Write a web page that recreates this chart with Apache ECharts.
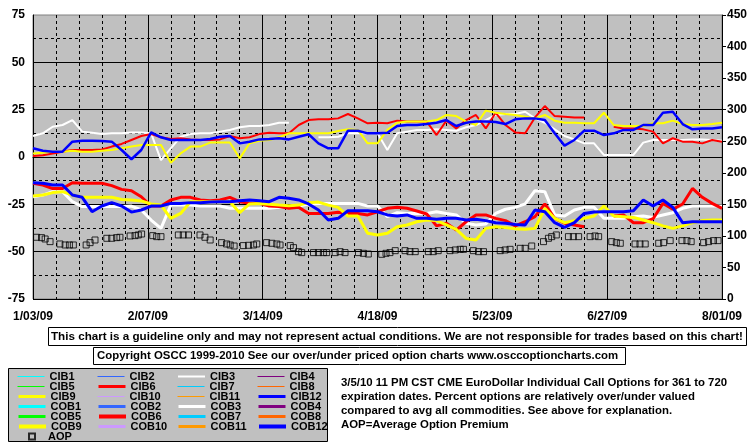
<!DOCTYPE html>
<html><head><meta charset="utf-8">
<script src="https://cdn.jsdelivr.net/npm/echarts@6/dist/echarts.min.js"></script>
<style>html,body{margin:0;padding:0;background:#fff}#c{width:755px;height:446px}</style>
</head><body><div id="c"></div>
<script>
const xTickLabels = ['1/03/09','2/07/09','3/14/09','4/18/09','5/23/09','6/27/09','8/01/09'];
const days = [0,3,6,9,12,15,18,21,24,27,30,33,36,39,42,45,48,51,54,57,60,63,66,69,72,75,78,81,84,87,90,93,96,99,102,105,108,111,114,117,120,123,126,129,132,135,138,141,144,147,150,153,156,159,162,165,168,171,174,177,180,183,186,189,192,195,198,201,204,207,210];
const cib3 = [11.1,12.5,16.0,16.9,19.5,13.4,12.8,12.1,12.5,12.5, 13.0,13.0,12.5,-1.6,4.6,10.7,12.1,12.5,12.5,13.4, 14.3,15.7,16.4,16.4,16.9,18.1,18.1,null,null,10.4, 10.4,10.7,12.5,12.5,12.5,12.5,3.7,12.5,13.4,14.3, 14.3,14.6,14.3,13.9,15.7,16.9,19.5,22.2,22.7,22.7, 23.9,20.4,18.1,14.6,11.1,9.3,7.2,7.2,1.1,1.1, 1.1,1.1,7.6,9.0,9.0,9.0,9.0,9.3,9.3,9.0,8.6];
const cib6 = [0.5,0.9,1.9,2.8,3.7,3.7,3.7,4.0,5.5,6.9, 9.0,11.1,12.1,10.4,9.5,9.9,9.3,9.0,9.0,9.3, 11.1,9.9,10.4,12.1,12.8,12.5,12.5,16.9,19.5,19.9, 19.9,20.4,22.7,20.4,17.8,18.1,17.8,19.2,18.7,18.7, 18.7,11.6,19.2,15.1,19.5,22.2,15.1,23.4,16.9,13.0, 12.5,20.9,26.9,21.6,21.3,20.9,20.9,null,null,16.0, 15.1,15.1,14.6,13.4,7.2,9.9,8.1,8.1,7.2,9.0,8.1];
const cib9 = [1.9,2.3,2.8,2.8,3.3,2.8,2.8,3.3,3.7,4.6, 5.5,6.3,6.3,6.3,-3.0,1.9,5.5,5.5,7.6,7.7, 7.7,-0.7,7.2,8.6,9.0,10.4,12.5,12.5,12.5,12.5, 12.5,13.7,14.6,14.3,7.2,7.2,14.3,18.1,18.7,18.7, 18.7,19.5,22.2,21.6,18.7,16.9,24.5,23.4,22.7,22.2, 21.3,20.4,22.2,19.2,18.1,18.1,17.8,17.8,23.4,16.9, 16.4,16.4,16.4,17.8,17.8,19.2,17.4,16.9,16.9,17.4,18.1];
const cib12 = [4.6,3.3,2.8,2.8,8.1,8.6,8.6,8.4,8.1,3.7, -1.2,3.7,13.0,10.4,9.0,9.0,9.0,9.0,9.5,10.7, 11.1,7.2,8.1,9.3,9.5,9.9,9.3,10.7,12.0,7.2, 4.6,4.6,13.9,13.9,12.5,12.5,12.8,16.4,16.9,16.9, 17.4,18.1,19.5,16.4,18.1,18.7,18.7,18.5,17.4,19.9, 20.4,20.4,19.5,12.5,6.0,9.0,13.9,13.9,11.6,12.5, 14.3,14.3,16.9,16.9,23.4,23.9,17.4,14.6,15.1,15.1,15.7];
const cob3 = [-21.0,-20.1,-18.3,-18.3,-23.6,-26.2,-26.2,-26.2,-26.2,-26.2, -25.9,-28.0,-33.3,-37.7,-25.4,-25.4,-25.4,-25.9,-25.9,-25.9, -27.1,-27.1,-27.1,-27.1,-27.1,-26.6,-26.2,-25.9,-24.8,-24.5, -24.5,-24.5,-24.5,-24.5,-25.9,-25.9,-31.5,-29.4,-29.8,-29.8, -29.8,-28.9,-29.8,-30.6,-35.0,-35.9,-35.4,-29.8,-27.6,-26.6, -24.8,-17.8,-18.3,-30.6,-31.2,-28.0,-26.6,-26.6,-32.4,-32.4, -32.4,-31.5,-31.2,-31.9,-30.6,-29.4,-27.1,-25.9,-25.9,-25.9,-25.9];
const cob6 = [-13.9,-14.8,-16.7,-16.6,-13.6,-13.9,-13.9,-13.9,-15.1,-17.1, -17.8,-21.0,-25.9,-25.9,-22.7,-21.3,-21.3,-22.7,-23.1,-22.7, -21.3,-23.6,-24.5,-24.5,-25.9,-26.2,-27.1,-26.6,-29.8,-29.8, -29.8,-29.2,-29.8,-29.8,-30.6,-28.9,-27.1,-26.6,-27.1,-28.5, -30.1,-36.4,-35.0,-38.6,-34.2,-30.6,-30.6,-32.4,-33.6,-36.4, -34.2,-31.5,-24.8,-32.4,-35.0,-35.9,-36.8,null,null,-31.2, -30.6,-34.7,-34.7,-32.6,-24.5,-27.6,-24.8,-16.6,-21.3,-24.5,-27.1];
const cob9 = [-20.6,-20.1,-18.8,-18.3,-20.1,-21.3,-21.3,-21.3,-21.3,-22.4, -22.7,-23.2,-24.8,-25.4,-32.4,-29.8,-23.6,-23.6,-23.6,-23.6, -23.6,-29.4,-24.8,-24.5,-25.0,-25.4,-25.7,-25.4,-24.1,-23.8, -25.4,-26.6,-31.2,-31.2,-40.3,-41.2,-40.3,-36.8,-35.9,-34.2, -33.3,-33.6,-35.9,-38.2,-43.0,-43.8,-37.7,-36.8,-37.3,-37.9, -38.2,-37.7,-27.1,-32.4,-34.7,-33.6,-32.4,-31.2,-25.9,-31.2, -31.5,-31.9,-33.3,-34.7,-36.4,-37.7,-36.4,-34.7,-33.6,-33.3,-33.3];
const cob12 = [-13.6,-13.9,-14.8,-14.8,-20.1,-21.3,-28.9,-25.9,-24.1,-25.9, -29.1,-28.0,-25.9,-25.9,-24.5,-24.5,-24.1,-24.1,-23.8,-23.6, -23.6,-23.1,-22.7,-23.1,-23.6,-21.3,-21.8,-22.7,-24.8,-28.0, -33.3,-32.4,-28.4,-28.4,-28.4,-28.9,-30.6,-31.2,-30.6,-32.4, -32.4,-32.9,-32.4,-32.4,-33.3,-32.9,-33.6,-34.7,-35.0,-35.6, -35.9,-28.0,-28.9,-34.7,-37.2,-34.7,-29.8,-29.1,-28.9,-28.9, -28.9,-28.4,-22.7,-25.9,-22.7,-26.6,-34.7,-34.2,-34.2,-34.2,-34.2];
const aopDays = [1.1,2.6,3.7,5.2, 8.2,9.8,11.1,12.3, 16.2,17.4,18.9, 22.5,24,25.5,26.5, 29.6,31.1,32.1,33.1, 36.5,37.7,39, 44.3,45.8,47.4, 50.9,52.4,54, 57.5,59,60.1,61.3, 64.1,65.7,67.2,68.2, 71.2,72.8,74.3,75.3, 78.4,79.4,80.9,81.9, 85.5,87,88.5,89.5, 92.1,93.6,95.1, 99.2,100.7,102.2, 106.3,107.6,108.8,110.4, 113.4,114.9,116.5, 120.5,122,123.5, 127.1,128.7,130.2,131.2, 134.2,135.8,137.3, 142.4,143.9,145.4, 148.5,150,152, 155.6,157.1,158.1,159.5, 163.2,164.7,166.3, 169.8,171.3,172.4, 176.4,177.8,179, 183.5,185,186.6, 190.7,192.2,194.2, 197.8,199.3,200.6, 204.4,205.9,207.4,208.8];
const aopVals = [97.8,97.2,95.1,90.9, 87.2,85.6,85.6,85.6, 85.6,89.3,93.5, 96.2,96.2,97.2,97.8, 99.9,100.4,101.5,103, 100.4,98.8,98.8, 101.5,101.5,101.5, 101.5,97.8,93.5, 89.3,87.2,85.6,84, 84.6,85.1,85.6,87.2, 89.3,88.3,87.2,85.6, 84.6,81.4,75,73.5, 73.5,73.5,73.5,73.5, 73.5,75,73.5, 73.5,72.4,71.3, 70.8,72.4,73.5,76.6, 76.6,75,75, 75,75,76.6, 76.6,77.7,78.7,78.7, 76.6,75,75, 76.6,77.7,78.7, 80.3,80.3,84, 90.9,96.2,98.8,101.5, 98.8,98.8,98.8, 98.8,99.9,98.8, 90.9,89.3,88.3, 87.2,87.2,87.2, 88.3,89.3,92.5, 92.5,92.5,90.9, 89.3,90.9,92.5,92.5];
const lineColors = ['#00FFFF','#3366FF','#FFFFFF','#800080','#00FF00','#FF0000','#00CCFF','#FF6600','#FFFF00','#CC99FF','#FF9900','#0000FF'];
const legendColumns = [
  ['CIB1','CIB5','CIB9','COB1','COB5','COB9'],
  ['CIB2','CIB6','CIB10','COB2','COB6','COB10'],
  ['CIB3','CIB7','CIB11','COB3','COB7','COB11'],
  ['CIB4','CIB8','CIB12','COB4','COB8','COB12']
];
const plotted = {CIB3: cib3, CIB6: cib6, CIB9: cib9, CIB12: cib12, COB3: cob3, COB6: cob6, COB9: cob9, COB12: cob12};

const FONT = '"Liberation Sans", Arial, sans-serif';
const series = [];
const legendWidth = {};
['CIB','COB'].forEach(function (p) {
  for (let n = 1; n <= 12; n++) {
    const name = p + n;
    const vals = plotted[name];
    const big = (n === 6 || n === 9 || n === 12);
    legendWidth[name] = p === 'CIB' ? (n === 3 ? 2 : big ? 3 : 1) : (n === 3 ? 3 : big ? 4 : 3);
    series.push({
      name: name, type: 'line', yAxisIndex: 0, symbol: 'none', showSymbol: false,
      connectNulls: false, animation: false, silent: true,
      lineStyle: {color: lineColors[n - 1], width: p === 'CIB' ? (n === 12 ? 2.5 : 2) : 3},
      itemStyle: {color: lineColors[n - 1]},
      data: vals ? days.map(function (d, i) { return [d, vals[i] === null ? '-' : vals[i]]; }) : []
    });
  }
});
series.push({
  name: 'AOP', type: 'scatter', yAxisIndex: 1, symbol: 'rect', symbolSize: 6, silent: true,
  itemStyle: {color: 'rgba(0,0,0,0)', borderColor: '#000', borderWidth: 1},
  data: aopDays.map(function (d, i) { return [d, aopVals[i]]; })
});

const legendText = {fontSize: 11, fontWeight: 'bold', color: '#000', fontFamily: FONT};
const legends = [];
legendColumns.forEach(function (col, ci) {
  col.forEach(function (nm, ri) {
    legends.push({
      orient: 'horizontal', left: 17 + ci * 80, top: 371 + ri * 10, itemWidth: 27, itemHeight: 10,
      selectedMode: false, padding: 0, textStyle: legendText, itemGap: 0,
      data: [{name: nm, lineStyle: {width: legendWidth[nm]}, itemStyle: {opacity: 0}}]
    });
  });
});
legends.push({
  orient: 'horizontal', left: 28, top: 431, itemWidth: 6, itemHeight: 6, selectedMode: false, padding: 0,
  textStyle: Object.assign({}, legendText, {padding: [0, 0, 0, 8]}),
  data: ['AOP']
});

const axisLabelStyle = {fontSize: 12, fontWeight: 'bold', color: '#000', fontFamily: FONT};
const TXT = 'bold 11.4px ' + FONT;
const option = {
  animation: false,
  backgroundColor: '#fff',
  grid: {left: 33, right: 33, top: 15, bottom: 147, show: true, backgroundColor: '#C0C0C0', borderColor: '#808080', borderWidth: 1},
  legend: legends,
  xAxis: {
    type: 'value', min: 0, max: 210, interval: 35,
    axisLine: {lineStyle: {color: '#000', width: 1}},
    axisTick: {show: false},
    axisLabel: Object.assign({margin: 12, formatter: function (v) { return xTickLabels[Math.round(v / 35)] || ''; }}, axisLabelStyle),
    splitLine: {show: true, lineStyle: {color: '#000', width: 1}},
    minorTick: {show: false, splitNumber: 5},
    minorSplitLine: {show: true, lineStyle: {color: '#000', width: 1, type: [3, 3]}}
  },
  yAxis: [{
    type: 'value', min: -75, max: 75, interval: 25, position: 'left',
    axisLine: {show: true, lineStyle: {color: '#000', width: 1}},
    axisTick: {show: false},
    axisLabel: Object.assign({margin: 8}, axisLabelStyle),
    splitLine: {show: true, showMaxLine: false, lineStyle: {color: '#000', width: 1}},
    minorTick: {show: false, splitNumber: 2},
    minorSplitLine: {show: true, lineStyle: {color: '#000', width: 1, type: [3, 3]}}
  }, {
    type: 'value', min: 0, max: 450, interval: 50, position: 'right',
    axisLine: {show: true, lineStyle: {color: '#000', width: 1}},
    axisTick: {show: true, length: 4, lineStyle: {color: '#000'}},
    axisLabel: Object.assign({margin: 5}, axisLabelStyle),
    splitLine: {show: false}
  }],
  graphic: [
    {type: 'rect', z: 0, shape: {x: 8.5, y: 368.5, width: 319, height: 73}, style: {fill: '#C0C0C0', stroke: '#000', lineWidth: 1}},
    {type: 'rect', shape: {x: 48.5, y: 327.5, width: 698, height: 18}, style: {fill: '#fff', stroke: '#000', lineWidth: 1}},
    {type: 'text', x: 51, y: 337, style: {text: 'This chart is a guideline only and may not represent actual conditions. We are not responsible for trades based on this chart!', font: 'bold 11.65px ' + FONT, fill: '#000', verticalAlign: 'middle'}},
    {type: 'rect', shape: {x: 93.5, y: 347.5, width: 532, height: 17}, style: {fill: '#fff', stroke: '#000', lineWidth: 1}},
    {type: 'text', x: 97, y: 356, style: {text: 'Copyright OSCC 1999-2010 See our over/under priced option charts www.osccoptioncharts.com', font: TXT, fill: '#000', verticalAlign: 'middle'}},
    {type: 'text', x: 341, y: 376, style: {text: '3/5/10 11 PM CST CME EuroDollar Individual Call Options for 361 to 720\nexpiration dates. Percent options are relatively over/under valued\ncompared to avg all commodities. See above for explanation.\nAOP=Average Option Premium', font: TXT, fill: '#000', lineHeight: 14, verticalAlign: 'top'}}
  ],
  series: series
};
const chart = echarts.init(document.getElementById('c'), null, {renderer: 'canvas'});
chart.setOption(option);
</script>
</body></html>
